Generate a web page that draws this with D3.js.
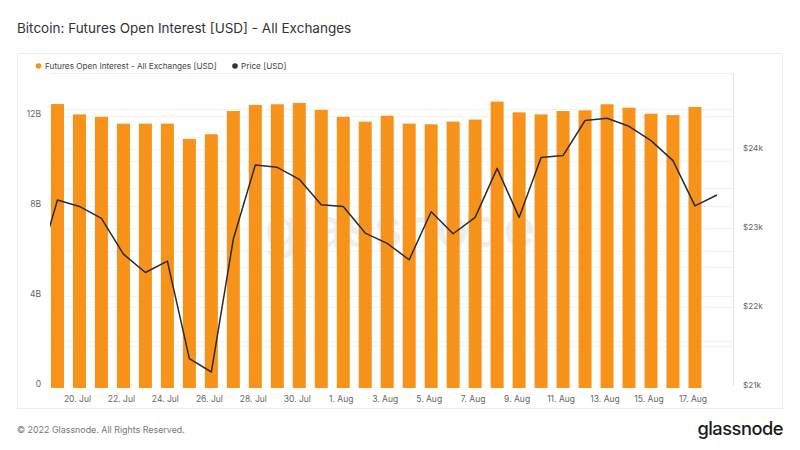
<!DOCTYPE html>
<html><head><meta charset="utf-8">
<script src="https://cdn.jsdelivr.net/npm/d3@7"></script>
<style>
body{margin:0;background:#fff;font-family:Inter,"Noto Sans",sans-serif;}
</style></head>
<body><svg id="c" width="800" height="450"></svg>
<script>
const barDates = ["2022-07-19","2022-07-20","2022-07-21","2022-07-22","2022-07-23","2022-07-24","2022-07-25","2022-07-26","2022-07-27","2022-07-28","2022-07-29","2022-07-30","2022-07-31","2022-08-01","2022-08-02","2022-08-03","2022-08-04","2022-08-05","2022-08-06","2022-08-07","2022-08-08","2022-08-09","2022-08-10","2022-08-11","2022-08-12","2022-08-13","2022-08-14","2022-08-15","2022-08-16","2022-08-17"];
const openInterestB = [12.53,12.07,11.96,11.66,11.66,11.66,10.98,11.19,12.22,12.49,12.52,12.58,12.27,11.96,11.75,12.01,11.66,11.63,11.75,11.84,12.64,12.16,12.07,12.22,12.25,12.52,12.37,12.10,12.04,12.40];
const priceDates = ["2022-07-18","2022-07-19","2022-07-20","2022-07-21","2022-07-22","2022-07-23","2022-07-24","2022-07-25","2022-07-26","2022-07-27","2022-07-28","2022-07-29","2022-07-30","2022-07-31","2022-08-01","2022-08-02","2022-08-03","2022-08-04","2022-08-05","2022-08-06","2022-08-07","2022-08-08","2022-08-09","2022-08-10","2022-08-11","2022-08-12","2022-08-13","2022-08-14","2022-08-15","2022-08-16","2022-08-17","2022-08-18"];
const priceUSD = [22400,23353,23272,23120,22669,22436,22580,21346,21177,22859,23797,23767,23615,23294,23272,22935,22804,22597,23205,22926,23133,23754,23133,23890,23915,24359,24388,24286,24105,23852,23278,23417];
const leftTicks = [0,4,8,12];
const leftTickLabels = ["0","4B","8B","12B"];
const rightTicks = [21000,22000,23000,24000];
const rightTickLabels = ["$21k","$22k","$23k","$24k"];
const xTickDates = ["2022-07-20","2022-07-22","2022-07-24","2022-07-26","2022-07-28","2022-07-30","2022-08-01","2022-08-03","2022-08-05","2022-08-07","2022-08-09","2022-08-11","2022-08-13","2022-08-15","2022-08-17"];

const svg = d3.select("#c");
const parse = d3.utcParse("%Y-%m-%d");
const L=50,R=733,T=73,B=386;
const day = 864e5;
const x = d3.scaleUtc()
  .domain([new Date(parse("2022-07-19").getTime()-0.34*day), new Date(parse("2022-08-18").getTime()+0.73*day)])
  .range([L,R]);
const yL = d3.scaleLinear().domain([0,13.91]).range([B,T]);
const yR = d3.scaleLinear().domain([21000,24960]).range([B,T]);

// title
svg.append("text").attr("x",17).attr("y",33).attr("font-size",13.5).attr("fill","#333").text("Bitcoin: Futures Open Interest [USD] - All Exchanges");
// card
svg.append("rect").attr("x",17.5).attr("y",53.5).attr("width",765).attr("height",355).attr("fill","none").attr("stroke","#ececec");

// gridlines
const g = svg.append("g");
g.selectAll(".gl").data(d3.range(2,14,2)).join("line").attr("x1",L).attr("x2",R)
  .attr("y1",d=>Math.round(yL(d))+0.5).attr("y2",d=>Math.round(yL(d))+0.5).attr("stroke","#f3f3f3");
g.selectAll(".gr").data(d3.range(21500,25000,500)).join("line").attr("x1",L).attr("x2",R)
  .attr("y1",d=>Math.round(yR(d))+0.5).attr("y2",d=>Math.round(yR(d))+0.5).attr("stroke","#f3f3f3");

// plot borders
svg.append("line").attr("x1",R+0.5).attr("x2",R+0.5).attr("y1",T).attr("y2",B).attr("stroke","#e4e4e4");
svg.append("line").attr("x1",L).attr("x2",R).attr("y1",T+0.5).attr("y2",T+0.5).attr("stroke","#f0f0f0");

// watermark
svg.append("text").attr("x",400).attr("y",247).attr("text-anchor","middle").attr("font-size",55)
  .attr("fill","#ebebeb").attr("font-family","Inter, sans-serif").attr("font-weight",500).attr("opacity",0.8).text("glassnode");

// bars
const bw = 13;
svg.append("g").selectAll("rect").data(barDates.map((d,i)=>({d:parse(d),v:openInterestB[i]}))).join("rect")
  .attr("x",d=>x(d.d)-bw/2).attr("width",bw).attr("y",d=>yL(d.v)).attr("height",d=>B+2-yL(d.v)).attr("fill","#f7931a");

// price line
svg.append("defs").append("clipPath").attr("id","clip").append("rect").attr("x",L).attr("y",T).attr("width",R-L).attr("height",B-T+2);
const line = d3.line().x(d=>x(d.d)).y(d=>yR(d.v));
svg.append("path").attr("clip-path","url(#clip)").datum(priceDates.map((d,i)=>({d:parse(d),v:priceUSD[i]})))
  .attr("d",line).attr("fill","none").attr("stroke","#2b2b2b").attr("stroke-width",1.5).attr("stroke-linejoin","round");

// left axis labels
svg.append("g").selectAll("text").data(leftTicks).join("text").attr("x",41).attr("y",d=>yL(d)+1)
  .attr("text-anchor","end").attr("font-size",8.5).attr("fill","#666").text((d,i)=>leftTickLabels[i]);
// right axis labels
svg.append("g").selectAll("text").data(rightTicks).join("text").attr("x",743).attr("y",d=>yR(d)+2)
  .attr("font-size",8.2).attr("fill","#666").text((d,i)=>rightTickLabels[i]);
// x labels
const fmt = d=>{const m=d.getUTCMonth()===6?"Jul":"Aug";return d.getUTCDate()+". "+m;};
svg.append("g").selectAll("text").data(xTickDates.map(parse)).join("text").attr("x",d=>x(d)-2).attr("y",402)
  .attr("text-anchor","middle").attr("font-size",8.5).attr("fill","#666").text(fmt);

// legend
svg.append("circle").attr("cx",38.5).attr("cy",66).attr("r",2.8).attr("fill","#f7931a");
svg.append("text").attr("x",45).attr("y",69).attr("font-size",8.2).attr("fill","#444").text("Futures Open Interest - All Exchanges [USD]");
svg.append("circle").attr("cx",235).attr("cy",66).attr("r",2.8).attr("fill","#333");
svg.append("text").attr("x",241).attr("y",69).attr("font-size",8.2).attr("fill","#444").text("Price [USD]");

// footer
svg.append("text").attr("x",17).attr("y",433).attr("font-size",8.9).attr("fill","#777").text("© 2022 Glassnode. All Rights Reserved.");
svg.append("text").attr("x",783).attr("y",435).attr("text-anchor","end").attr("font-size",18.3).attr("fill","#1a1a1a").attr("font-weight",500).attr("letter-spacing",-0.5).text("glassnode");
</script></body></html>
